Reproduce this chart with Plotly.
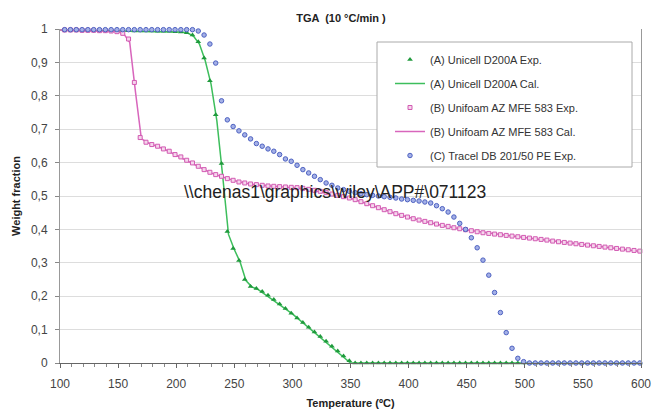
import plotly.graph_objects as go

# ---------------- data ----------------
temp_exp = [104, 109, 114, 119, 124, 129, 134, 139, 144, 149,
            154, 159, 164, 169, 174, 179, 184, 189, 194, 199,
            204, 209, 214, 219, 224, 229, 234, 239, 244, 249,
            254, 259, 264, 269, 274, 279, 284, 289, 294, 299,
            304, 309, 314, 319, 324, 329, 334, 339, 344, 349,
            354, 359, 364, 369, 374, 379, 384, 389, 394, 399,
            404, 409, 414, 419, 424, 429, 434, 439, 444, 449,
            454, 459, 464, 469, 474, 479, 484, 489, 494, 499,
            504, 509, 514, 519, 524, 529, 534, 539, 544, 549,
            554, 559, 564, 569, 574, 579, 584, 589, 594, 599]

unicell_exp = [0.997, 0.997, 0.997, 0.996, 0.996, 0.996, 0.996, 0.995, 0.995, 0.995,
               0.995, 0.995, 0.994, 0.994, 0.994, 0.994, 0.993, 0.993, 0.993, 0.992,
               0.991, 0.989, 0.982, 0.962, 0.913, 0.845, 0.743, 0.597, 0.394, 0.343,
               0.307, 0.250, 0.229, 0.223, 0.214, 0.203, 0.190, 0.177, 0.163, 0.149,
               0.135, 0.121, 0.107, 0.093, 0.079, 0.065, 0.050, 0.036, 0.021, 0.007,
               0, 0, 0, 0, 0, 0, 0, 0, 0, 0,
               0, 0, 0, 0, 0, 0, 0, 0, 0, 0,
               0, 0, 0, 0, 0, 0, 0, 0, 0, 0,
               0, 0, 0, 0, 0, 0, 0, 0, 0, 0,
               0, 0, 0, 0, 0, 0, 0, 0, 0, 0]

unifoam_exp = [0.997, 0.997, 0.997, 0.996, 0.996, 0.996, 0.995, 0.995, 0.994, 0.992,
               0.987, 0.970, 0.840, 0.675, 0.661, 0.654, 0.649, 0.641, 0.634, 0.624,
               0.617, 0.607, 0.599, 0.589, 0.579, 0.571, 0.564, 0.559, 0.552, 0.547,
               0.542, 0.539, 0.536, 0.534, 0.532, 0.530, 0.529, 0.528, 0.527, 0.526,
               0.525, 0.523, 0.520, 0.517, 0.514, 0.510, 0.506, 0.502, 0.498, 0.494,
               0.489, 0.483, 0.477, 0.471, 0.465, 0.459, 0.453, 0.447, 0.442, 0.437,
               0.432, 0.428, 0.424, 0.420, 0.416, 0.412, 0.409, 0.405, 0.402, 0.399,
               0.396, 0.393, 0.390, 0.388, 0.386, 0.384, 0.382, 0.380, 0.378, 0.376,
               0.374, 0.372, 0.370, 0.368, 0.365, 0.363, 0.361, 0.359, 0.357, 0.355,
               0.353, 0.351, 0.349, 0.347, 0.345, 0.343, 0.341, 0.339, 0.337, 0.335]

tracel_exp = [0.998, 0.998, 0.998, 0.998, 0.998, 0.998, 0.998, 0.998, 0.998, 0.998,
              0.998, 0.998, 0.998, 0.998, 0.998, 0.998, 0.998, 0.998, 0.998, 0.998,
              0.998, 0.998, 0.998, 0.994, 0.982, 0.955, 0.898, 0.785, 0.728, 0.708,
              0.695, 0.683, 0.671, 0.657, 0.649, 0.641, 0.634, 0.624, 0.611, 0.604,
              0.592, 0.579, 0.569, 0.559, 0.549, 0.539, 0.532, 0.524, 0.519, 0.514,
              0.510, 0.507, 0.504, 0.502, 0.500, 0.498, 0.496, 0.494, 0.491, 0.489,
              0.487, 0.485, 0.482, 0.479, 0.471, 0.462, 0.452, 0.437, 0.418, 0.400,
              0.375, 0.345, 0.308, 0.263, 0.211, 0.151, 0.091, 0.044, 0.014, 0.004,
              0, 0, 0, 0, 0, 0, 0, 0, 0, 0,
              0, 0, 0, 0, 0, 0, 0, 0, 0, 0]

unicell_cal_temp = [100, 205, 210, 215, 220, 225, 230, 235, 240, 245, 250, 255, 260, 265, 270, 300, 350, 600]
unicell_cal = [0.997, 0.991, 0.988, 0.978, 0.955, 0.905, 0.835, 0.725, 0.560, 0.385, 0.340, 0.302, 0.247, 0.228, 0.221, 0.147, 0.0, 0.0]

unifoam_cal_temp = [100, 145, 150, 155, 160, 165, 170, 175, 180, 190, 200, 210, 220, 230, 240, 250, 260, 270,
                    290, 310, 330, 350, 370, 390, 410, 430, 450, 480, 510, 540, 570, 600]
unifoam_cal = [0.997, 0.994, 0.992, 0.985, 0.960, 0.810, 0.672, 0.660, 0.653, 0.640, 0.622, 0.605, 0.587, 0.569,
               0.557, 0.546, 0.538, 0.533, 0.528, 0.522, 0.508, 0.493, 0.470, 0.446, 0.427, 0.411, 0.398, 0.384,
               0.371, 0.359, 0.347, 0.334]

y_ticks = [0, 0.1, 0.2, 0.3, 0.4, 0.5, 0.6, 0.7, 0.8, 0.9, 1]
y_tick_labels = ["0", "0,1", "0,2", "0,3", "0,4", "0,5", "0,6", "0,7", "0,8", "0,9", "1"]

names = ["(A) Unicell D200A Exp.", "(A) Unicell D200A Cal.", "(B) Unifoam AZ MFE 583 Exp.",
         "(B) Unifoam AZ MFE 583 Cal.", "(C) Tracel DB 201/50 PE Exp."]

# ---------------- figure ----------------
FONT = "Liberation Sans, Arial, sans-serif"
fig = go.Figure()

fig.add_trace(go.Scatter(x=unicell_cal_temp, y=unicell_cal, mode="lines", name=names[1],
                         legendrank=2, legendgroup="g2",
                         line=dict(color="#3DBE5C", width=1.5), cliponaxis=False))
fig.add_trace(go.Scatter(x=temp_exp, y=unicell_exp, mode="markers", name=names[0],
                         legendrank=1, legendgroup="g1",
                         marker=dict(symbol="triangle-up", size=5, color="#1F9A3C",
                                     line=dict(width=0)), cliponaxis=False))
fig.add_trace(go.Scatter(x=unifoam_cal_temp, y=unifoam_cal, mode="lines", name=names[3],
                         legendrank=4, legendgroup="g4",
                         line=dict(color="#D866BC", width=1.5), cliponaxis=False))
fig.add_trace(go.Scatter(x=temp_exp, y=unifoam_exp, mode="markers", name=names[2],
                         legendrank=3, legendgroup="g3",
                         marker=dict(symbol="square", size=4, color="#F5D6EC",
                                     line=dict(color="#D25AB2", width=1)), cliponaxis=False))
fig.add_trace(go.Scatter(x=temp_exp, y=tracel_exp, mode="markers", name=names[4],
                         legendrank=5, legendgroup="g5",
                         marker=dict(symbol="circle", size=4.5, color="#A4B0E6",
                                     line=dict(color="#4E62C2", width=1)), cliponaxis=False))

# legend frame (white box behind legend entries)
fig.add_shape(type="rect", xref="paper", yref="paper",
              x0=(377 - 60) / 581, x1=(632 - 60) / 581,
              y0=(363 - 167) / 334, y1=(363 - 42) / 334,
              line=dict(color="#AAAAAA", width=1), fillcolor="white", layer="above")

fig.add_annotation(text="\\\\chenas1\\graphics\\wiley\\APP#\\071123",
                   xref="paper", yref="paper", x=(335 - 60) / 581, y=(363 - 192) / 334,
                   showarrow=False, font=dict(family=FONT, size=17.5, color="#222222"))

fig.update_layout(
    width=652, height=409,
    margin=dict(l=60, r=11, t=29, b=46),
    paper_bgcolor="white", plot_bgcolor="white",
    font=dict(family=FONT, size=12, color="#444444"),
    title=dict(text="<b>TGA  (10 °C/min )</b>", x=341 / 652, xanchor="center",
               y=1 - 18 / 409, yanchor="middle", font=dict(size=11, color="#222222")),
    showlegend=True,
    legend=dict(x=(390 - 60) / 581, xanchor="left", y=(363 - 45) / 334, yanchor="top",
                bgcolor="rgba(0,0,0,0)", borderwidth=0, traceorder="grouped",
                tracegroupgap=5, font=dict(size=11, color="#333333")),
    xaxis=dict(range=[100, 600], tickmode="linear", tick0=100, dtick=50, automargin=False,
               showgrid=False, zeroline=False, showline=True, linecolor="#666666", linewidth=1,
               ticks="outside", ticklen=4, tickcolor="#666666", ticklabelstandoff=6,
               minor=dict(dtick=10, ticks="outside", ticklen=3, tickcolor="#888888", showgrid=False),
               title=dict(text="<b>Temperature (ºC)</b>", standoff=9, font=dict(size=11, color="#222222"))),
    yaxis=dict(range=[0, 1], tickmode="array", tickvals=y_ticks, ticktext=y_tick_labels, automargin=False,
               showgrid=True, gridcolor="#DDDDDD", gridwidth=1, zeroline=False,
               showline=True, linecolor="#999999", linewidth=1, mirror=True,
               ticks="outside", ticklen=4, tickcolor="#888888", ticklabelstandoff=5,
               title=dict(text="<b>Weight fraction</b>", standoff=8, font=dict(size=11, color="#222222"))),
)

fig.write_html("out.html")
